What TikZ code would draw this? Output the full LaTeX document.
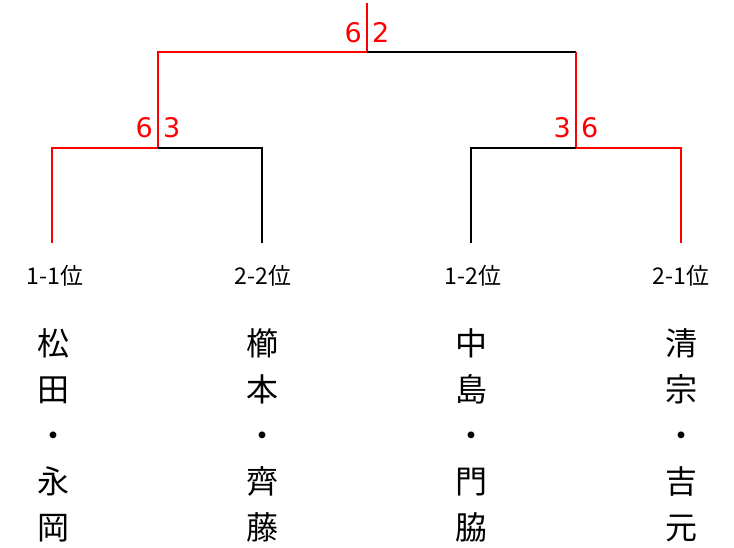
\documentclass[tikz,border=0pt]{standalone}
\usepackage{fontspec}
\newfontfamily\jpfont{Noto Sans CJK JP}
\newfontfamily\scorefont{DejaVu Sans}
\usetikzlibrary{positioning}
\tikzset{
	win/.style={draw=red, line width=2pt},
	lose/.style={draw=black, line width=2pt},
	score/.style={text=red, font=\scorefont\fontsize{27}{27}\selectfont, inner sep=0pt},
	seed/.style={font=\jpfont\fontsize{23}{23}\selectfont, inner sep=0pt},
	player/.style={font=\jpfont\fontsize{32}{46}\selectfont, align=center, inner sep=0pt},
}

\begin{document}
\begin{tikzpicture}[x=1pt, y=-1pt]
		%%%%% START %%%%%
		\useasboundingbox (0, 0) rectangle (734, 548);
		
		\coordinate (top) at (367, 3);
		\coordinate (fin) at (367, 52);
		\coordinate (finL) at (158, 52);
		\coordinate (finR) at (576, 52);
		\coordinate (semiL) at (158, 148);
		\coordinate (semiR) at (576, 148);
		\coordinate (cA) at (52, 148);
		\coordinate (cB) at (262, 148);
		\coordinate (cC) at (471, 148);
		\coordinate (cD) at (681, 148);
		\coordinate (leafA) at (52, 243);
		\coordinate (leafB) at (262, 243);
		\coordinate (leafC) at (471, 243);
		\coordinate (leafD) at (681, 243);
		
		\draw[win] (top) -- (fin) -- (finL) -- (semiL);
		\draw[lose] (fin) -- (finR);
		\draw[win] (finR) -- (semiR);
		
		\draw[win] (semiL) -- (cA) -- (leafA);
		\draw[lose] (semiL) -- (cB) -- (leafB);
		\draw[lose] (semiR) -- (cC) -- (leafC);
		\draw[win] (semiR) -- (cD) -- (leafD);
		
		\node[score, anchor=base east] (finScoreL) at (362, 43) {6};
		\node[score, anchor=base west] (finScoreR) at (372, 43) {2};
		\node[score, anchor=base east] (semiScoreLa) at (153, 138) {6};
		\node[score, anchor=base west] (semiScoreLb) at (163, 138) {3};
		\node[score, anchor=base east] (semiScoreRa) at (571, 138) {3};
		\node[score, anchor=base west] (semiScoreRb) at (581, 138) {6};
		
		\node[seed] (seedA) at (55, 276) {1-1位};
		\node[seed] (seedB) at (263, 276) {2-2位};
		\node[seed] (seedC) at (473, 276) {1-2位};
		\node[seed] (seedD) at (681, 276) {2-1位};
		
		\node[player] (pairA) at (53, 435) {松\\田\\・\\永\\岡};
		\node[player] (pairB) at (262, 435) {櫛\\本\\・\\齊\\藤};
		\node[player] (pairC) at (471, 435) {中\\島\\・\\門\\脇};
		\node[player] (pairD) at (681, 435) {清\\宗\\・\\吉\\元};
		%%%%% END %%%%%
	\end{tikzpicture}
\end{document}
